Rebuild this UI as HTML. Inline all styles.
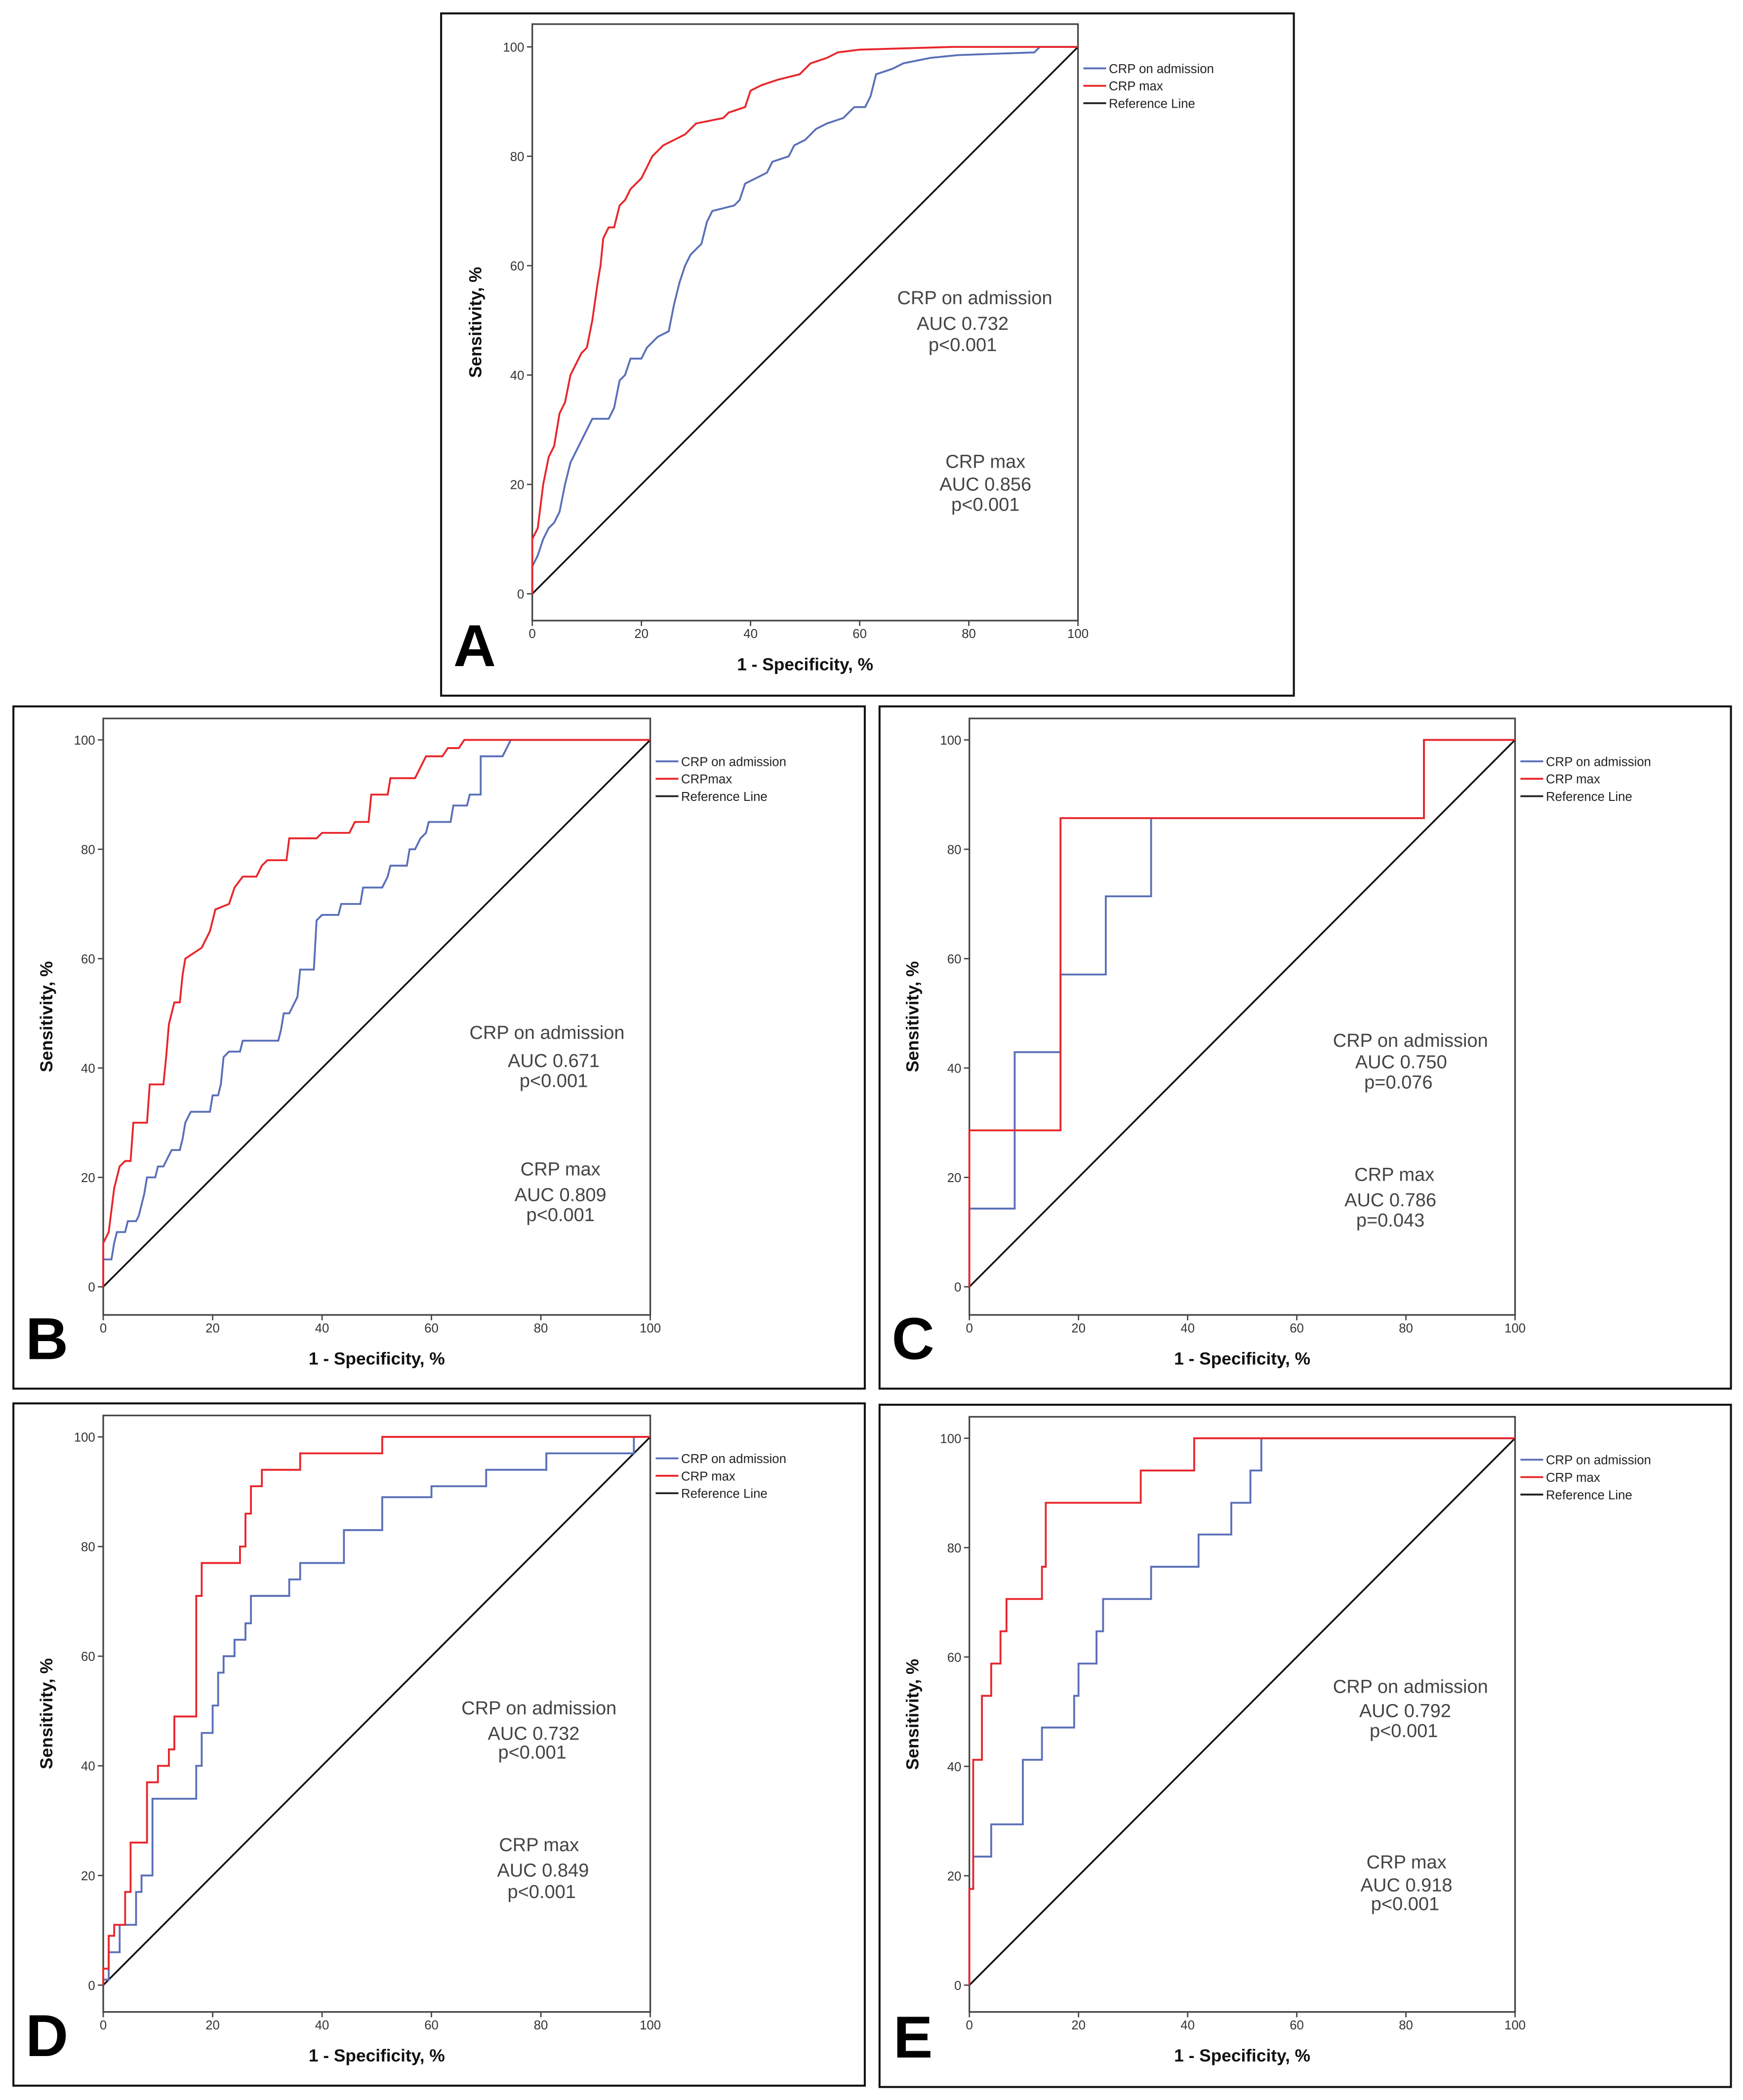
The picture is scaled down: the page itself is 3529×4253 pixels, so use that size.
<!DOCTYPE html>
<html><head><meta charset="utf-8">
<style>
html,body{margin:0;padding:0;background:#fff;}
svg{display:block;}
text{font-family:"Liberation Sans",Arial,sans-serif;}
</style></head>
<body>
<svg id="fig" width="3529" height="4253" viewBox="0 0 1300 1566.7" preserveAspectRatio="none" xmlns="http://www.w3.org/2000/svg"></svg>
<script>
// ---- Data arrays ----
const ticks = [0, 20, 40, 60, 80, 100];
const legendLabels = ["CRP on admission", "CRP max", "Reference Line"];

const aMaxX = [0,0,1,2,3,4,5,6,7,8,9,10,11,12,12.5,13,14,15,16,17,18,20,21,22,24,26,28,30,35,36,39,40,42,45,49,51,54,56,60,77,100];
const aMaxY = [0,10,12,20,25,27,33,35,40,42,44,45,50,57,60,65,67,67,71,72,74,76,78,80,82,83,84,86,87,88,89,92,93,94,95,97,98,99,99.5,100,100];
const aAdmX = [0,0,1,2,3,4,5,6,7,8,9,10,11,14,15,16,17,18,20,21,23,25,26,27,28,29,30,31,32,33,37,38,39,41,43,44,47,48,50,52,54,57,59,61,62,63,66,68,73,78,92,93,100];
const aAdmY = [0,5,7,10,12,13,15,20,24,26,28,30,32,32,34,39,40,43,43,45,47,48,53,57,60,62,63,64,68,70,71,72,75,76,77,79,80,82,83,85,86,87,89,89,91,95,96,97,98,98.5,99,100,100];

const bMaxX = [0,0,1,2,3,4,5,5.5,8,8.5,11,11.5,12,13,14,14.5,15,18,19.5,20.5,23,24,25.5,28,29,30,33.5,34,39,40,45,46,48.5,49,52,52.5,57,58,59,62,63,65,66,100];
const bMaxY = [0,8,10,18,22,23,23,30,30,37,37,42,48,52,52,57,60,62,65,69,70,73,75,75,77,78,78,82,82,83,83,85,85,90,90,93,93,95,97,97,98.5,98.5,100,100];
const bAdmX = [0,0,1.5,2,2.5,4,4.5,6,6.5,7.5,8,9.5,10,11,12,12.5,14,14.5,15,16,19.5,20,21,21.5,22,23,25,25.5,32,32.5,33,34,35,35.5,36,38.5,39,40,43,43.5,47,47.5,51,52,52.5,55.5,56,57,58,59,59.5,63.5,64,66.5,67,69,69,73,74,74.5,100];
const bAdmY = [0,5,5,8,10,10,12,12,13,17,20,20,22,22,24,25,25,27,30,32,32,35,35,37,42,43,43,45,45,47,50,50,52,53,58,58,67,68,68,70,70,73,73,75,77,77,80,80,82,83,85,85,88,88,90,90,97,97,99,100,100];

const cMaxX = [0,0,16.7,16.7,83.3,83.3,100];
const cMaxY = [0,28.6,28.6,85.7,85.7,100,100];
const cAdmX = [0,0,8.3,8.3,16.7,16.7,25,25,33.3,33.3,83.3,83.3,100];
const cAdmY = [0,14.3,14.3,42.9,42.9,57.1,57.1,71.4,71.4,85.7,85.7,100,100];

const dMaxX = [0,0,1,1,2,2,4,4,5,5,8,8,10,10,12,12,13,13,17,17,18,18,25,25,26,26,27,27,29,29,36,36,51,51,100];
const dMaxY = [0,3,3,9,9,11,11,17,17,26,26,37,37,40,40,43,43,49,49,71,71,77,77,80,80,86,86,91,91,94,94,97,97,100,100];
const dAdmX = [0,0,1,1,3,3,6,6,7,7,9,9,17,17,18,18,20,20,21,21,22,22,24,24,26,26,27,27,34,34,36,36,44,44,51,51,60,60,70,70,81,81,97,97,100];
const dAdmY = [0,1,1,6,6,11,11,17,17,20,20,34,34,40,40,46,46,51,51,57,57,60,60,63,63,66,66,71,71,74,74,77,77,83,83,89,89,91,91,94,94,97,97,100,100];

const eMaxX = [0,0,0.7,0.7,2.3,2.3,4,4,5.7,5.7,6.8,6.8,13.3,13.3,14,14,31.4,31.4,41.2,41.2,100];
const eMaxY = [0,17.6,17.6,41.2,41.2,52.9,52.9,58.8,58.8,64.7,64.7,70.6,70.6,76.5,76.5,88.2,88.2,94.1,94.1,100,100];
const eAdmX = [0,0,0.7,0.7,4,4,9.8,9.8,13.3,13.3,19.2,19.2,20,20,23.3,23.3,24.5,24.5,33.3,33.3,42,42,48,48,51.5,51.5,53.5,53.5,54.5,54.5,100];
const eAdmY = [0,17.6,17.6,23.5,23.5,29.4,29.4,41.2,41.2,47.1,47.1,52.9,52.9,58.8,58.8,64.7,64.7,70.6,70.6,76.5,76.5,82.4,82.4,88.2,88.2,94.1,94.1,100,100,100,100];

const panels = [
 {id:"a", letter:"A", box:[329,10,965,519], px0:397, px1:804, y100:35, y0:443, ftop:18, fbot:463,
  adm:[aAdmX,aAdmY], max:[aMaxX,aMaxY], maxLabel:"CRP max",
  t1:[727,222,"CRP on admission"], t2:[718,241,"AUC 0.732"], t3:[718,257,"p<0.001"],
  t4:[735,344,"CRP max"], t5:[735,361,"AUC 0.856"], t6:[735,376,"p<0.001"]},
 {id:"b", letter:"B", box:[10,527,645,1036], px0:77, px1:485, y100:552, y0:960, ftop:536, fbot:981,
  adm:[bAdmX,bAdmY], max:[bMaxX,bMaxY], maxLabel:"CRPmax",
  t1:[408,770,"CRP on admission"], t2:[413,791,"AUC 0.671"], t3:[413,806,"p<0.001"],
  t4:[418,872,"CRP max"], t5:[418,891,"AUC 0.809"], t6:[418,906,"p<0.001"]},
 {id:"c", letter:"C", box:[656,527,1291,1036], px0:723, px1:1130, y100:552, y0:960, ftop:536, fbot:981,
  adm:[cAdmX,cAdmY], max:[cMaxX,cMaxY], maxLabel:"CRP max",
  t1:[1052,776,"CRP on admission"], t2:[1045,792,"AUC 0.750"], t3:[1043,807,"p=0.076"],
  t4:[1040,876,"CRP max"], t5:[1037,895,"AUC 0.786"], t6:[1037,910,"p=0.043"]},
 {id:"d", letter:"D", box:[10,1047,645,1556], px0:77, px1:485, y100:1072, y0:1481, ftop:1056, fbot:1501,
  adm:[dAdmX,dAdmY], max:[dMaxX,dMaxY], maxLabel:"CRP max",
  t1:[402,1274,"CRP on admission"], t2:[398,1293,"AUC 0.732"], t3:[397,1307,"p<0.001"],
  t4:[402,1376,"CRP max"], t5:[405,1395,"AUC 0.849"], t6:[404,1411,"p<0.001"]},
 {id:"e", letter:"E", box:[656,1048,1291,1557], px0:723, px1:1130, y100:1073, y0:1481, ftop:1057, fbot:1501,
  adm:[eAdmX,eAdmY], max:[eMaxX,eMaxY], maxLabel:"CRP max",
  t1:[1052,1258,"CRP on admission"], t2:[1048,1276,"AUC 0.792"], t3:[1047,1291,"p<0.001"],
  t4:[1049,1389,"CRP max"], t5:[1049,1406,"AUC 0.918"], t6:[1048,1420,"p<0.001"]}
];

const NS = "http://www.w3.org/2000/svg";
const svg = document.getElementById("fig");
function mk(tag, attrs, parent){
  const e = document.createElementNS(NS, tag);
  for (const k in attrs) e.setAttribute(k, attrs[k]);
  (parent||svg).appendChild(e);
  return e;
}
function txt(x,y,s,size,parent,extra){
  const t = mk("text", Object.assign({x:x,y:y,"font-size":size,fill:"#333"}, extra||{}), parent);
  t.textContent = s;
  return t;
}

panels.forEach(p=>{
  const g = mk("g",{});
  
  
  const xs = v => p.px0 + (p.px1-p.px0)*v/100;
  const ys = v => p.y0 - (p.y0-p.y100)*v/100;
  const ob = mk("rect",{x:p.box[0],y:p.box[1],width:p.box[2]-p.box[0],height:p.box[3]-p.box[1],fill:"none",stroke:"#111","stroke-width":1.5},g);
  
  
  const fr = mk("rect",{x:p.px0,y:p.ftop,width:p.px1-p.px0,height:p.fbot-p.ftop,fill:"none",stroke:"#444","stroke-width":1.2},g);
  
  
  ticks.forEach(v=>{
    mk("line",{x1:p.px0-4,x2:p.px0,y1:ys(v),y2:ys(v),stroke:"#444","stroke-width":1},g);
    const yl = txt(p.px0-6, ys(v)+3.5, String(v), 9.5, g, {"text-anchor":"end","font-family":"Liberation Sans Narrow, Liberation Sans, sans-serif"});
    
    
    mk("line",{x1:xs(v),x2:xs(v),y1:p.fbot,y2:p.fbot+4,stroke:"#444","stroke-width":1},g);
    const xl = txt(xs(v), p.fbot+13, String(v), 9.5, g, {"text-anchor":"middle","font-family":"Liberation Sans Narrow, Liberation Sans, sans-serif"});
    
    
  });
  const ref = mk("line",{x1:xs(0),y1:ys(0),x2:xs(100),y2:ys(100),stroke:"#111","stroke-width":1.3},g);
  
  
  const draw = (arr,color,name)=>{
    const pts = arr[0].map((x,i)=>xs(x).toFixed(2)+","+ys(arr[1][i]).toFixed(2)).join(" ");
    const pl = mk("polyline",{points:pts,fill:"none",stroke:color,"stroke-width":1.4,"stroke-linejoin":"miter"},g);
    
    
  };
  draw(p.adm,"#5a6fb8","crp-admission-curve");
  draw(p.max,"#e8262b","crp-max-curve");
  const lx = p.px1+4;
  const lys = [ys(100)+16, ys(100)+29, ys(100)+42];
  const cols = ["#5a6fb8","#e8262b","#222"];
  const labs = [legendLabels[0], p.maxLabel, legendLabels[2]];
  lys.forEach((ly,i)=>{
    const lg = mk("g",{},g);
    
    
    mk("line",{x1:lx,x2:lx+17,y1:ly,y2:ly,stroke:cols[i],"stroke-width":1.4},lg);
    txt(lx+19, ly+3.5, labs[i], 9.5, lg, {fill:"#222"});
  });
  ["t1","t2","t3","t4","t5","t6"].forEach(k=>{
    const t = txt(p[k][0], p[k][1]+5, p[k][2], 14, g, {"text-anchor":"middle",fill:"#444"});
    
    
  });
  const cx = (p.px0+p.px1)/2;
  const xt = txt(cx, p.fbot+37, "1 - Specificity, %", 13, g, {"text-anchor":"middle","font-weight":"bold",fill:"#111"});
  
  
  const ycx = p.px0-38, ycy = (p.ftop+p.fbot)/2;
  const yt = txt(ycx, ycy, "Sensitivity, %", 13, g, {"text-anchor":"middle","font-weight":"bold",fill:"#111",transform:"rotate(-90 "+ycx+" "+ycy+")"});
  
  
  const L = txt(p.box[0]+25, p.box[3]-22, p.letter, 44, g, {"text-anchor":"middle",fill:"#000","font-weight":"bold","font-family":"Liberation Sans, DejaVu Sans, sans-serif"});
  
  
});
</script>
</body></html>
